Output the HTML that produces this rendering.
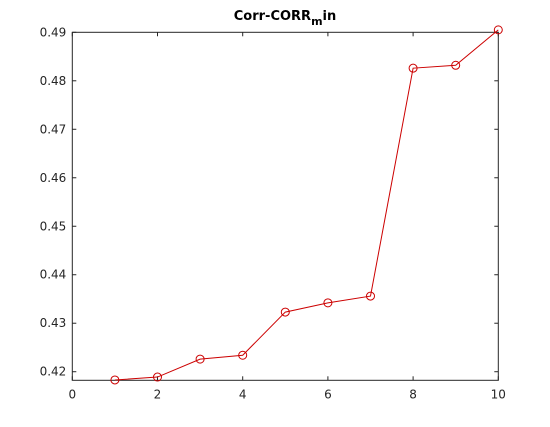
<!DOCTYPE html>
<html><head><meta charset="utf-8"><style>
body{margin:0;background:#fff;}
svg{display:block;font-family:"DejaVu Sans","Liberation Sans",sans-serif;}
</style></head><body>
<svg id="chart" width="550" height="427">
<rect x="0" y="0" width="550" height="427" fill="#fff"/>
<text x="285" y="20" text-anchor="middle" font-size="13" font-weight="bold">Corr-CORR<tspan font-size="11" dy="5">m</tspan><tspan dy="-5">in</tspan></text>
<g id="plot"></g>
</svg>
<script>
const xValues=[1,2,3,4,5,6,7,8,9,10];
const yValues=[0.4183,0.4189,0.4226,0.4234,0.4323,0.4342,0.4356,0.4826,0.4832,0.4905];
const xTicks=[0,2,4,6,8,10];
const yTicks=[0.42,0.43,0.44,0.45,0.46,0.47,0.48,0.49];
const yTickLabels=["0.42","0.43","0.44","0.45","0.46","0.47","0.48","0.49"];
const L=72.3,R=498.3,T=32.3,B=380.3;
const xMin=0,xMax=10,yMin=0.41823,yMax=0.49;
const sx=v=>L+(v-xMin)/(xMax-xMin)*(R-L);
const sy=v=>B-(v-yMin)/(yMax-yMin)*(B-T);
const NS="http://www.w3.org/2000/svg";
const g=document.getElementById('plot');
function mk(t,a){const e=document.createElementNS(NS,t);for(const k in a)e.setAttribute(k,a[k]);g.appendChild(e);return e;}
const box=mk('rect',{x:L,y:T,width:R-L,height:B-T,fill:'none',stroke:'#262626','stroke-width':1});


xTicks.forEach(v=>{const x=sx(v);
 const t1=mk('line',{x1:x,x2:x,y1:B,y2:B-4,stroke:'#262626'});
 
 
 const t2=mk('line',{x1:x,x2:x,y1:T,y2:T+4,stroke:'#262626'});
 
 
 const l=mk('text',{x:x,y:B+18,'text-anchor':'middle','font-size':12,fill:'#262626'});l.textContent=v;
 
 
});
yTicks.forEach((v,i)=>{const y=sy(v);
 const t1=mk('line',{x1:L,x2:L+4,y1:y,y2:y,stroke:'#262626'});
 
 
 const t2=mk('line',{x1:R,x2:R-4,y1:y,y2:y,stroke:'#262626'});
 
 
 const l=mk('text',{x:L-6,y:y+4,'text-anchor':'end','font-size':12,fill:'#262626'});l.textContent=yTickLabels[i];
 
 
});
const pl=mk('polyline',{points:xValues.map((x,i)=>sx(x)+','+sy(yValues[i])).join(' '),fill:'none',stroke:'#cc0000','stroke-width':1});


xValues.forEach((x,i)=>{
 const c=mk('circle',{cx:sx(x),cy:sy(yValues[i]),r:4,fill:'none',stroke:'#cc0000','stroke-width':1});
 
 
});
</script>
</body></html>
